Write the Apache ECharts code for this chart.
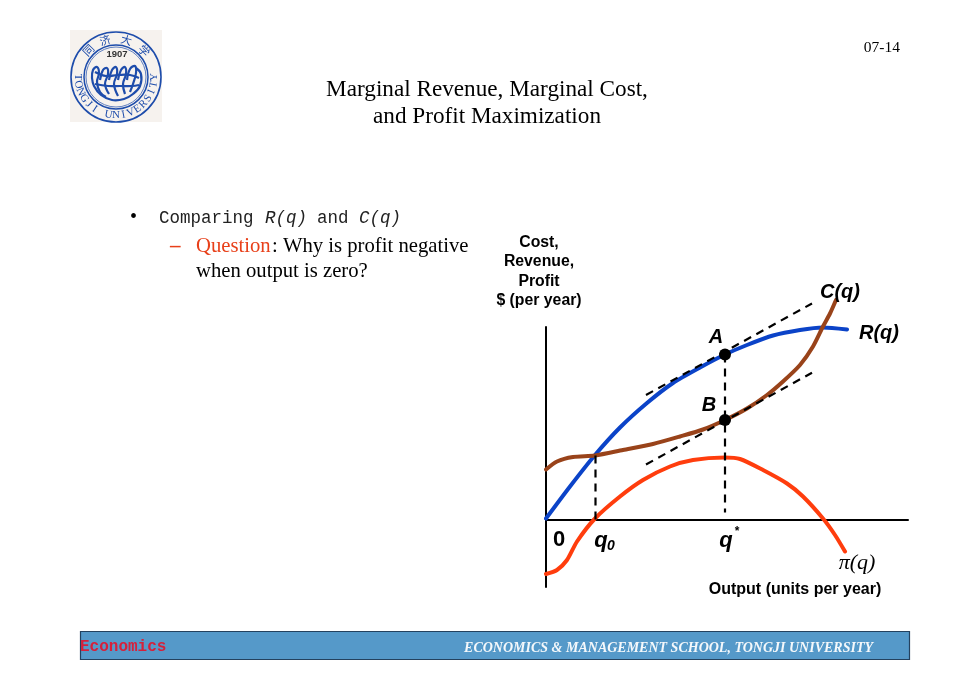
<!DOCTYPE html>
<html>
<head>
<meta charset="utf-8">
<style>html,body{margin:0;padding:0;background:#fff}#c{width:980px;height:692px}</style>
<script src="https://cdn.jsdelivr.net/npm/echarts@6/dist/echarts.min.js"></script>
</head>
<body>
<div id="c"></div>
<script>
// Data (output, $ per year, in arbitrary picture units)
const revenue = [[0,1],[24,33],[49,64.5],[74,92],[101,116.5],[127,136.5],[154,152],[179,165],[201,174.5],[227,184],[254,189.5],[277,192],[301,190]];
const cost = [[0,50],[11,58],[27,62.5],[49,64],[77,69.5],[107,75.5],[134,83],[157,90],[179,99.5],[201,111],[221,124.5],[237,138],[254,154.5],[267,173],[277,193],[284,206],[290,219.5]];
const profit = [[0,-54.5],[11,-50.5],[21,-40.5],[31,-22],[49,1],[74,23],[97,39.5],[124,53],[147,59.5],[179,62],[194,60.5],[217,49.5],[241,36],[257,23],[277,1],[289,-15.5],[299,-32]];
const tangentA = [[100,124.5],[266,216]];
const tangentB = [[100,55],[266,146.8]];
const dropQ0 = [[49.5,64],[49.5,0]];
const dropQStar = [[179,165],[179,7]];
const points = [[179,165],[179,99.5]];
const yAxisTitle = ['Cost,','Revenue,','Profit','$ (per year)'];
const titleLines = ['Marginal Revenue, Marginal Cost,','and Profit Maximization'];
const universityLetters = 'TONGJI UNIVERSITY';

const SERIF = '"Liberation Serif","Times New Roman",serif';
const SANS = '"Liberation Sans",Arial,sans-serif';
const MONO = '"Liberation Mono","Courier New",monospace';

function txt(text, x, y, font, fill, align) {
  return {type:'text', x:x, y:y, z:20, silent:true, style:{text:text, font:font, fill:fill||'#000', textAlign:align||'left', textVerticalAlign:'middle'}};
}
const BLUE = '#1d4cab';
function logo() {
  const cx = 116, cy = 77, els = [];
  els.push({type:'rect', z:1, silent:true, shape:{x:70,y:30,width:92,height:92}, style:{fill:'#f6f2ee'}});
  [[45,1.6],[32,1.5],[30,0.7]].forEach(r => els.push({type:'circle', z:2, silent:true, shape:{cx:cx,cy:cy,r:r[0]}, style:{fill:null,stroke:BLUE,lineWidth:r[1]}}));
  // Letters around the lower rim
  const n = universityLetters.length;
  for (let i = 0; i < n; i++) {
    const a = Math.PI - i * Math.PI / (n - 1);
    const x = cx + 38.5 * Math.cos(a), y = cy + 38.5 * Math.sin(a);
    els.push({type:'text', z:3, silent:true, x:x, y:y, rotation:-(a - Math.PI/2), style:{text:universityLetters[i], font:'11px '+SERIF, fill:BLUE, textAlign:'center', textVerticalAlign:'middle'}});
  }
  // Chinese name on the upper rim
  [['同',-2.37],['济',-1.86],['大',-1.30],['学',-0.75]].forEach(c => {
    const x = cx + 38.5 * Math.cos(c[1]), y = cy + 38.5 * Math.sin(c[1]);
    els.push({type:'text', z:3, silent:true, x:x, y:y, rotation:-(c[1] + Math.PI/2), style:{text:c[0], font:'11px "Noto Sans CJK SC"', fill:BLUE, textAlign:'center', textVerticalAlign:'middle'}});
  });
  els.push({type:'text', z:3, silent:true, x:117, y:54, style:{text:'1907', font:'bold 9.5px '+SANS, fill:'#333', textAlign:'center', textVerticalAlign:'middle'}});
  // Emblem strokes
  const strokes = [
    [[92,78],[93,70],[97,67],[99,73],[97,82],[100,92],[106,97]],
    [[100,80],[103,70],[107,68],[108,74],[105,84],[109,94]],
    [[109,80],[112,70],[116,67],[117,74],[114,84],[118,96]],
    [[118,80],[121,70],[125,67],[126,74],[123,84],[125,94]],
    [[127,80],[130,69],[135,66],[136,73],[133,84],[130,92]],
    [[136,68],[141,74],[140,86],[133,94],[124,99],[112,100],[101,95],[94,86],[92,78]],
    [[95,72],[106,76],[118,75],[130,75],[139,78]],
    [[95,84],[108,86],[120,86],[132,86],[139,85]]
  ];
  strokes.forEach(p => els.push({type:'polyline', z:3, silent:true, shape:{points:p, smooth:0.4}, style:{fill:null, stroke:BLUE, lineWidth:2.2}}));
  return els;
}

const slide = [
  txt('07-14', 900, 48, '15.5px '+SERIF, '#000', 'right'),
  txt(titleLines[0], 487, 90, '23.2px '+SERIF, '#000', 'center'),
  txt(titleLines[1], 487, 117, '23.2px '+SERIF, '#000', 'center'),
  txt('•', 130, 218, '20px '+SERIF),
  txt('Comparing', 159, 218, '17.5px '+MONO, '#222'),
  txt('R(q)', 265, 218, 'italic 17.5px '+MONO, '#222'),
  txt('and', 317, 218, '17.5px '+MONO, '#222'),
  txt('C(q)', 359, 218, 'italic 17.5px '+MONO, '#222'),
  txt('–', 170, 247, 'bold 21px '+SERIF, '#e8401a'),
  txt('Question', 196, 247, '20.7px '+SERIF, '#e8401a'),
  txt(': Why is profit negative', 272, 247, '20.7px '+SERIF),
  txt('when output is zero?', 196, 272, '20.7px '+SERIF),
  {type:'rect', z:5, silent:true, shape:{x:80.5,y:631.5,width:829,height:28}, style:{fill:'#5599c9', stroke:'#24425f', lineWidth:1.2}},
  txt('Economics', 80, 647, 'bold 16px '+MONO, '#d6203a'),
  txt('ECONOMICS & MANAGEMENT SCHOOL, TONGJI UNIVERSITY', 873, 648, 'italic bold 14px '+SERIF, '#f4f8fb', 'right')
];
const labels = [
  txt(yAxisTitle[0], 539, 243, 'bold 15.8px '+SANS, '#000', 'center'),
  txt(yAxisTitle[1], 539, 262, 'bold 15.8px '+SANS, '#000', 'center'),
  txt(yAxisTitle[2], 539, 282, 'bold 15.8px '+SANS, '#000', 'center'),
  txt(yAxisTitle[3], 539, 301, 'bold 15.8px '+SANS, '#000', 'center'),
  txt('A', 716, 337, 'italic bold 20px '+SANS, '#000', 'center'),
  txt('B', 709, 405, 'italic bold 20px '+SANS, '#000', 'center'),
  txt('C(q)', 840, 292, 'italic bold 20px '+SANS, '#000', 'center'),
  txt('R(q)', 879, 333, 'italic bold 20px '+SANS, '#000', 'center'),
  txt('0', 559, 540, 'bold 22px '+SANS, '#000', 'center'),
  txt('q', 601, 541, 'italic bold 22px '+SANS, '#000', 'center'),
  txt('0', 611, 546, 'italic bold 14px '+SANS, '#000', 'center'),
  txt('q', 726, 541, 'italic bold 22px '+SANS, '#000', 'center'),
  txt('*', 737, 532, 'bold 12px '+SANS, '#000', 'center'),
  txt('π(q)', 857, 563, 'italic 22px '+SERIF, '#000', 'center'),
  txt('Output (units per year)', 795, 590, 'bold 16px '+SANS, '#000', 'center')
];

function dashed(data) {
  return {type:'line', data:data, showSymbol:false, symbol:'none', clip:false, silent:true, z:5,
    lineStyle:{color:'#000', width:2.2, type:[8,6]}};
}
function curve(data, color) {
  return {type:'line', data:data, smooth:0.25, showSymbol:false, symbol:'none', clip:false, silent:true, z:4,
    lineStyle:{color:color, width:4, cap:'round'}};
}

const chart = echarts.init(document.getElementById('c'), null, {renderer:'canvas'});
chart.setOption({
  animation:false,
  backgroundColor:'#fff',
  grid:{left:546, top:327, width:362, height:260},
  xAxis:{type:'value', min:0, max:362, axisLine:{onZero:true, lineStyle:{color:'#000', width:2}}, axisTick:{show:false}, axisLabel:{show:false}, splitLine:{show:false}},
  yAxis:{type:'value', min:-67.5, max:192.5, axisLine:{show:true, onZero:true, lineStyle:{color:'#000', width:2}}, axisTick:{show:false}, axisLabel:{show:false}, splitLine:{show:false}},
  series:[
    dashed(tangentA), dashed(tangentB), dashed(dropQ0), dashed(dropQStar),
    curve(profit,'#ff3d0d'), curve(revenue,'#0b43c8'), curve(cost,'#99431a'),
    {type:'scatter', data:points, symbolSize:12, silent:true, z:6, clip:false, itemStyle:{color:'#000', opacity:1}}
  ],
  graphic:{elements: logo().concat(slide, labels)}
});
</script>
</body>
</html>
